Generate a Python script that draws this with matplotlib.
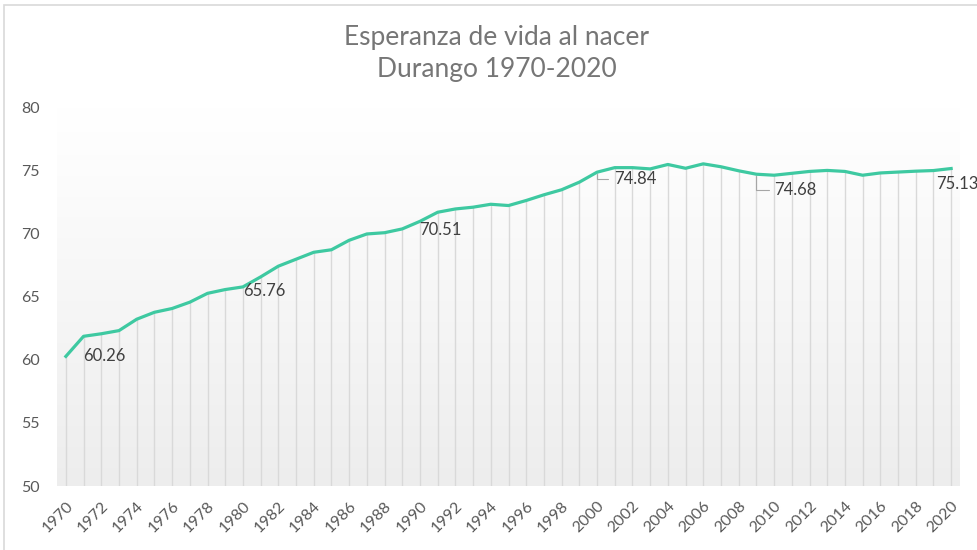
import matplotlib
matplotlib.use("Agg")
import matplotlib.pyplot as plt
from matplotlib.patches import Rectangle
import numpy as np

# Esperanza de vida al nacer, Durango
years = list(range(1970, 2021))
life_exp = [
    60.26, 61.85, 62.05, 62.30, 63.20, 63.75, 64.05, 64.55, 65.25, 65.55,
    65.76, 66.55, 67.40, 67.95, 68.50, 68.70, 69.45, 69.95, 70.05, 70.35,
    70.95, 71.67, 71.93, 72.07, 72.30, 72.20, 72.60, 73.05, 73.45, 74.05,
    74.84, 75.20, 75.20, 75.10, 75.45, 75.15, 75.50, 75.27, 74.95, 74.68,
    74.60, 74.75, 74.90, 74.98, 74.90, 74.60, 74.78, 74.85, 74.92, 74.97,
    75.13,
]

# data labels shown on the chart (year, text)
label_years = [1970, 1980, 1990, 2000, 2009, 2020]
label_text = ["60.26", "65.76", "70.51", "74.84", "74.68", "75.13"]

yticks = [50, 55, 60, 65, 70, 75, 80]
xtick_years = list(range(1970, 2021, 2))

plt.rcParams['font.family'] = ['Lato', 'DejaVu Sans']

fig = plt.figure(figsize=(9.77, 5.5), dpi=100)
fig.patch.set_facecolor('white')
# chart area border
fig.patches.append(Rectangle((4 / 977, -0.01), 1.1, 1 - 5 / 550 + 0.01, transform=fig.transFigure,
                             fill=False, edgecolor='#d9d9d9', linewidth=1.2))

ax = fig.add_axes([57 / 977, 1 - 486 / 550, (960 - 57) / 977, (486 - 107) / 550])
ax.set_xlim(1969.5, 2020.5)
ax.set_ylim(50, 80)

# gradient plot-area background (white at top, light gray at bottom)
levels = np.linspace(80, 50, 300)
shade = np.interp(levels, [50, 76.6, 80], [0.93, 0.993, 1.0])
grad = np.dstack([shade, shade, shade])[0][:, None, :]
ax.imshow(grad, extent=(1969.5, 2020.5, 50, 80), aspect='auto', zorder=0, interpolation='bilinear')

ax.vlines(years, 50, life_exp, color='#d9d9d9', linewidth=1.0, zorder=1)
ax.plot(years, life_exp, color='#3ec9a1', linewidth=2.3, zorder=3, solid_joinstyle='round')

lookup = dict(zip(years, life_exp))
# label offsets in pixels (right, up)
offsets = {1970: (17, 0), 1980: (0, -4), 1990: (-1, -9), 2000: (17, -7), 2009: (18, -16), 2020: (-15, -15)}
for yr, txt in zip(label_years, label_text):
    dx, dy = offsets[yr]
    kw = {}
    if yr in (2000, 2009):
        kw['arrowprops'] = dict(arrowstyle='-', color='#a6a6a6', lw=0.8,
                                shrinkA=2, shrinkB=1,
                                connectionstyle='angle,angleA=0,angleB=90,rad=0')
    ax.annotate(txt, xy=(yr, lookup[yr]), xytext=(dx, dy), textcoords='offset pixels',
                ha='left', va='center', fontsize=12, color='#404040', zorder=4,
                annotation_clip=False, **kw)

ax.set_yticks(yticks)
ax.set_xticks(xtick_years)
ax.set_xticklabels([str(y) for y in xtick_years], rotation=45, ha='right', va='top',
                   rotation_mode='anchor')
ax.tick_params(axis='both', length=0, labelsize=11.5, labelcolor='#595959')
ax.tick_params(axis='x', pad=9)
for lbl in ax.get_yticklabels():
    lbl.set_horizontalalignment('left')
ax.yaxis.set_tick_params(pad=26)
for s in ax.spines.values():
    s.set_visible(False)

fig.text(497 / 977, 1 - 38 / 550, 'Esperanza de vida al nacer', ha='center', va='center',
         fontsize=19, color='#767676')
fig.text(497 / 977, 1 - 70 / 550, 'Durango 1970-2020', ha='center', va='center',
         fontsize=19, color='#767676')

fig.savefig('out.png', dpi=100)
